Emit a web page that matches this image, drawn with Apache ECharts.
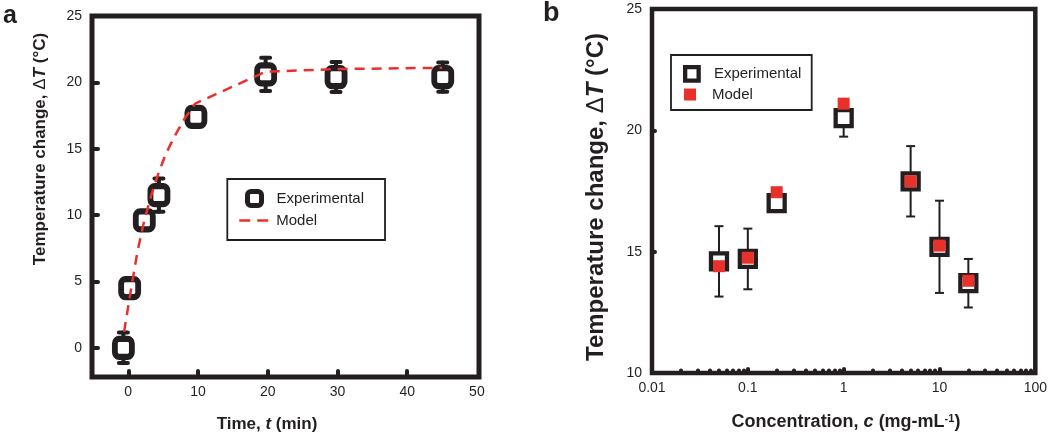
<!DOCTYPE html>
<html><head><meta charset="utf-8">
<script src="https://cdn.jsdelivr.net/npm/echarts@6/dist/echarts.min.js"></script>
<style>html,body{margin:0;padding:0;background:#fff}#c{width:1050px;height:435px}</style>
</head><body><div id="c"></div>
<script>
// ---------- Panel a data ----------
const timeA = [-0.7, 0.2, 2.3, 4.4, 9.7, 19.7, 29.8, 45.1];
const expA  = [0.0, 4.5, 9.6, 11.5, 17.4, 20.6, 20.4, 20.4];
const errA  = [1.15, 0.3, 0.5, 1.25, 0.6, 1.25, 1.13, 1.1];
const modelT = [-0.6, 0.3, 1.3, 2.3, 3.3, 4.3, 5.3, 6.5, 8.0, 9.6, 19.7, 29.8, 45.0];
const modelA = [1.2, 4.1, 7.2, 9.6, 11.5, 13.1, 14.5, 15.8, 17.2, 18.4, 20.8, 21.0, 21.1];
const xTicksA = [0, 10, 20, 30, 40];
const xLabelsA = [0, 10, 20, 30, 40, 50];
const yTicksA = [0, 5, 10, 15, 20];
const yLabelsA = [0, 5, 10, 15, 20, 25];

// ---------- Panel b data ----------
const concB  = [0.05, 0.1, 0.2, 1, 5, 10, 20];
const expB   = [14.6, 14.7, 17.0, 20.5, 17.9, 15.2, 13.7];
const errB   = [1.45, 1.25, 0.3, 0.76, 1.45, 1.9, 1.0];
const modelB = [14.4, 14.75, 17.45, 21.1, 17.9, 15.25, 13.8];
const xLabelsB = [0.01, 0.1, 1, 10, 100];
const xMajorTicksB = [0.1, 1, 10];
const xMinorTicksB = [0.02,0.03,0.04,0.05,0.06,0.07,0.08,0.09,
                      0.2,0.3,0.4,0.5,0.6,0.7,0.8,0.9,
                      2,3,4,5,6,7,8,9,
                      20,30,40,50,60,70,80,90];
const yTicksB = [15, 20];
const yLabelsB = [10, 15, 20, 25];

const INK = '#231f20', RED = '#e8312b';
const FF = '"Liberation Sans", Arial, Helvetica, sans-serif';
const SQUARE = 'path://M0,0H10V10H0Z';
const ROUNDSQ = 'path://M2.5,0H7.5A2.5,2.5 0 0 1 10,2.5V7.5A2.5,2.5 0 0 1 7.5,10H2.5A2.5,2.5 0 0 1 0,7.5V2.5A2.5,2.5 0 0 1 2.5,0Z';

function errBars(capHalf, lw, round) {
  return function (params, api) {
    const x = api.value(0), y = api.value(1), e = api.value(2);
    const t = api.coord([x, y + e]), b = api.coord([x, y - e]);
    const st = { stroke: INK, lineWidth: lw, lineCap: round ? 'round' : 'butt', fill: null };
    return { type: 'group', children: [
      { type: 'line', shape: { x1: t[0], y1: t[1], x2: b[0], y2: b[1] }, style: st },
      { type: 'line', shape: { x1: t[0] - capHalf, y1: t[1], x2: t[0] + capHalf, y2: t[1] }, style: st },
      { type: 'line', shape: { x1: b[0] - capHalf, y1: b[1], x2: b[0] + capHalf, y2: b[1] }, style: st }
    ]};
  };
}

const lbl = (extra) => Object.assign({ color: INK, fontSize: 14, fontFamily: FF }, extra);
const tick = (vals, len, w) => ({ show: true, inside: true, length: len, customValues: vals,
  lineStyle: { color: INK, width: w, cap: 'round' } });
const noLine = { show: false, onZero: false };

const chart = echarts.init(document.getElementById('c'), null, { renderer: 'canvas' });

const option = {
  animation: false,
  backgroundColor: '#fff',
  grid: [
    { left: 92, right: 571, top: 16, bottom: 58, show: true, borderColor: INK, borderWidth: 5, backgroundColor: 'rgba(0,0,0,0)' },
    { left: 652, right: 13, top: 9, bottom: 62, show: true, borderColor: INK, borderWidth: 4.5, backgroundColor: 'rgba(0,0,0,0)' }
  ],
  xAxis: [
    { gridIndex: 0, type: 'value', min: -5.2, max: 50.3, position: 'bottom',
      axisLine: noLine, splitLine: { show: false },
      axisTick: tick(xTicksA, 6, 4),
      axisLabel: lbl({ customValues: xLabelsA, margin: 8 }) },
    { gridIndex: 1, type: 'log', logBase: 10, min: 0.01, max: 100, position: 'bottom',
      axisLine: noLine, splitLine: { show: false },
      axisTick: tick(xMajorTicksB, 4, 4),
      axisLabel: lbl({ customValues: xLabelsB, margin: 8, formatter: v => String(v) }) },
    { gridIndex: 1, type: 'log', logBase: 10, min: 0.01, max: 100, position: 'bottom',
      axisLine: noLine, splitLine: { show: false },
      axisTick: tick(xMinorTicksB, 2.5, 4),
      axisLabel: { show: false } }
  ],
  yAxis: [
    { gridIndex: 0, type: 'value', min: -2.2, max: 25, position: 'left',
      axisLine: noLine, splitLine: { show: false },
      axisTick: tick(yTicksA, 6, 4),
      axisLabel: lbl({ customValues: yLabelsA, margin: 10 }) },
    { gridIndex: 1, type: 'value', min: 10, max: 25, position: 'left',
      axisLine: noLine, splitLine: { show: false },
      axisTick: tick(yTicksB, 3, 4),
      axisLabel: lbl({ customValues: yLabelsB, margin: 10 }) }
  ],
  legend: [
    { left: 245, top: 189, padding: 0, itemWidth: 34, itemHeight: 14, symbolKeepAspect: true,
      textStyle: { color: INK, fontSize: 15, fontFamily: FF },
      data: [{ name: 'Experimental', icon: ROUNDSQ, itemStyle: { color: '#fff', borderColor: INK, borderWidth: 5 } }] },
    { left: 238, top: 213, padding: 0, itemWidth: 32, itemHeight: 14,
      lineStyle: { color: RED, width: 2.5, type: [11, 7] },
      textStyle: { color: INK, fontSize: 15, fontFamily: FF },
      data: [{ name: 'Model', itemStyle: { color: 'rgba(0,0,0,0)', borderWidth: 0, opacity: 0 } }] },
    { left: 683, top: 65, padding: 0, itemWidth: 34, itemHeight: 13.5, symbolKeepAspect: true,
      textStyle: { color: INK, fontSize: 15, fontFamily: FF },
      data: [{ name: 'Experimental ', icon: SQUARE, itemStyle: { color: '#fff', borderColor: INK, borderWidth: 4.3 } }] },
    { left: 684, top: 87, padding: 0, itemWidth: 34, itemHeight: 12, symbolKeepAspect: true,
      textStyle: { color: INK, fontSize: 15, fontFamily: FF },
      data: [{ name: 'Model ', icon: SQUARE, itemStyle: { color: RED, borderWidth: 0 } }] }
  ],
  graphic: [
    { type: 'rect', shape: { x: 227.3, y: 179, width: 157.7, height: 61 }, style: { fill: null, stroke: INK, lineWidth: 1.8 }, z: 10 },
    { type: 'rect', shape: { x: 671, y: 55, width: 140.7, height: 55 }, style: { fill: null, stroke: INK, lineWidth: 1.8 }, z: 10 },
    { type: 'text', x: 3, y: 4, style: { text: 'a', fill: INK, fontSize: 25, fontWeight: 'bold', fontFamily: FF } },
    { type: 'text', x: 543, y: 0, style: { text: 'b', fill: INK, fontSize: 27, fontWeight: 'bold', fontFamily: FF } },
    { type: 'text', x: 40, y: 149, rotation: Math.PI / 2,
      style: { text: 'Temperature change, {d|Δ}{i|T} (°C)', fill: INK, fontSize: 17, fontWeight: 'bold', fontFamily: FF,
        align: 'center', verticalAlign: 'middle',
        rich: { d: { fontSize: 17, fontWeight: 'normal', fontFamily: FF, fill: INK },
                i: { fontSize: 17, fontWeight: 'bold', fontStyle: 'italic', fontFamily: FF, fill: INK } } } },
    { type: 'text', x: 267, y: 424,
      style: { text: 'Time, {i|t} (min)', fill: INK, fontSize: 17, fontWeight: 'bold', fontFamily: FF,
        align: 'center', verticalAlign: 'middle',
        rich: { i: { fontSize: 17, fontWeight: 'bold', fontStyle: 'italic', fontFamily: FF, fill: INK } } } },
    { type: 'text', x: 596, y: 197, rotation: Math.PI / 2,
      style: { text: 'Temperature change, {d|Δ}{i|T} (°C)', fill: INK, fontSize: 24, fontWeight: 'bold', fontFamily: FF,
        align: 'center', verticalAlign: 'middle',
        rich: { d: { fontSize: 24, fontWeight: 'normal', fontFamily: FF, fill: INK },
                i: { fontSize: 24, fontWeight: 'bold', fontStyle: 'italic', fontFamily: FF, fill: INK } } } },
    { type: 'text', x: 846, y: 422,
      style: { text: 'Concentration, {i|c} (mg-mL{s|-1})', fill: INK, fontSize: 18, fontWeight: 'bold', fontFamily: FF,
        align: 'center', verticalAlign: 'middle',
        rich: { i: { fontSize: 18, fontWeight: 'bold', fontStyle: 'italic', fontFamily: FF, fill: INK },
                s: { fontSize: 11, fontWeight: 'bold', fontFamily: FF, fill: INK, verticalAlign: 'top' } } } }
  ],
  series: [
    { type: 'custom', name: 'errA', xAxisIndex: 0, yAxisIndex: 0, z: 2, silent: true,
      data: timeA.map((t, i) => [t, expA[i], errA[i]]), encode: { x: 0, y: 1 },
      renderItem: errBars(4.5, 4, true) },
    { type: 'scatter', name: 'Experimental', xAxisIndex: 0, yAxisIndex: 0, z: 3,
      symbol: 'roundRect', symbolSize: [17, 18],
      itemStyle: { color: '#fff', borderColor: INK, borderWidth: 6, opacity: 1 },
      data: timeA.map((t, i) => [t, expA[i]]) },
    { type: 'line', name: 'Model', xAxisIndex: 0, yAxisIndex: 0, z: 4, showSymbol: false, symbol: 'none',
      lineStyle: { color: RED, width: 2.5, type: [10, 7] }, itemStyle: { color: RED },
      data: modelT.map((t, i) => [t, modelA[i]]) },

    { type: 'custom', name: 'errB', xAxisIndex: 1, yAxisIndex: 1, z: 2, silent: true,
      data: concB.map((c, i) => [c, expB[i], errB[i]]), encode: { x: 0, y: 1 },
      renderItem: errBars(4.5, 2, false) },
    { type: 'scatter', name: 'Experimental ', xAxisIndex: 1, yAxisIndex: 1, z: 3,
      symbol: 'rect', symbolSize: 16,
      itemStyle: { color: '#fff', borderColor: INK, borderWidth: 4.3, opacity: 1 },
      data: concB.map((c, i) => [c, expB[i]]) },
    { type: 'scatter', name: 'Model ', xAxisIndex: 1, yAxisIndex: 1, z: 4,
      symbol: 'rect', symbolSize: 12,
      itemStyle: { color: RED, opacity: 1 },
      data: concB.map((c, i) => [c, modelB[i]]) }
  ]
};
chart.setOption(option);
</script>
</body></html>
